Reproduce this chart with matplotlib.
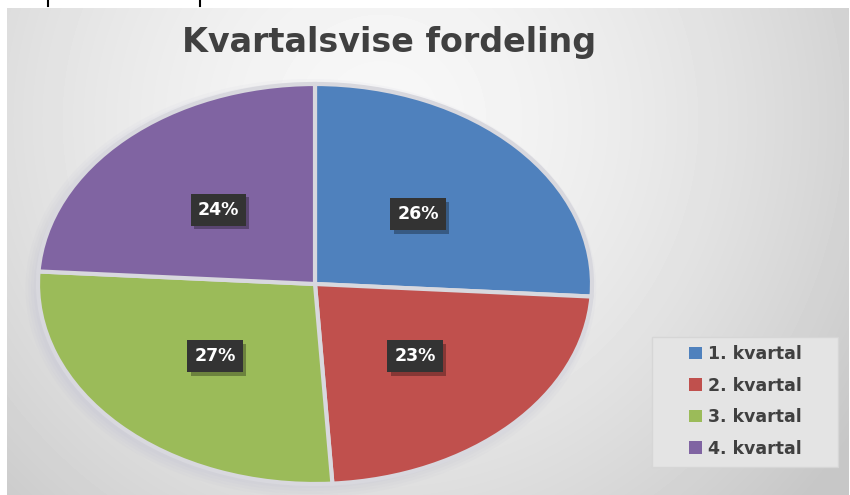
import numpy as np
import matplotlib.pyplot as plt
import matplotlib.patheffects as pe
from matplotlib.patches import Patch, Ellipse, Rectangle
from matplotlib.lines import Line2D

plt.rcParams['font.family'] = ['DejaVu Sans']

# Data
kvartaler = ["1. kvartal", "2. kvartal", "3. kvartal", "4. kvartal"]
andeler = [26, 23, 27, 24]
farger = ["#4f81bd", "#c0504d", "#9bbb59", "#8064a2"]
tittel = "Kvartalsvise fordeling"

W, H = 850, 495
fig = plt.figure(figsize=(W / 100, H / 100), dpi=100)
fig.patch.set_facecolor("white")


def box(x0, y0, x1, y1):
    # piksler (y nedover) -> figurbrøk
    return [x0 / W, 1 - y1 / H, (x1 - x0) / W, (y1 - y0) / H]


# Bakgrunn med radial gradient
bg = fig.add_axes(box(7, 8, 849, 495))
yy, xx = np.mgrid[8:495, 7:849]
d = np.hypot(xx - 380, yy - 120) / 528
g = np.clip(0.97 - 0.17 * d ** 1.6, 0.78, 1)
bg.imshow(g, cmap="gray", vmin=0, vmax=1, aspect="auto", interpolation="bilinear")
bg.axis("off")

# små streker øverst (fra skjermbildet)
for xp in (48, 200):
    fig.add_artist(Line2D([xp / W, xp / W], [1, 1 - 6 / H], color="black", lw=1.5,
                          transform=fig.transFigure))

# Kakediagram (strukket til ellipse)
ax = fig.add_axes(box(38, 84, 592, 484))
for k in range(4):
    sh = Ellipse((-0.015, -0.02), 2 + 0.02 * k, 2 + 0.03 * k, fc="#a8a8c8", ec="none",
                 alpha=0.05, clip_on=False, zorder=0)
    ax.add_patch(sh)

wedges, _, pct = ax.pie(andeler, colors=farger, startangle=90, counterclock=False,
                        autopct="%1.0f%%", pctdistance=0.51,
                        wedgeprops=dict(edgecolor="#d8d8de", linewidth=3))
for w in wedges:
    w.set_clip_on(False)
ax.set_aspect("auto")
ax.set_xlim(-1, 1)
ax.set_ylim(-1, 1)
ax.axis("off")

for t in pct:
    t.set(color="white", fontsize=12.5, fontweight="bold", zorder=4)
    t.set_bbox(dict(boxstyle="square,pad=0.4", fc="#333333", ec="none"))
    t.get_bbox_patch().set_path_effects(
        [pe.SimplePatchShadow(offset=(2.5, -2.5), shadow_rgbFace="black", alpha=0.3),
         pe.Normal()])

# Tittel
fig.text(389 / W, 1 - 52 / H, tittel, ha="center", va="baseline", fontsize=24,
         fontweight="bold", color="#404040")

# Forklaring
fig.add_artist(Rectangle((652 / W, 1 - 467 / H), 186 / W, 130 / H, fc="#e4e4e4",
                         ec="#d6d6d6", lw=1, transform=fig.transFigure))
handles = [Patch(fc=c, ec="none") for c in farger]
leg = fig.legend(handles, kvartaler, loc="upper left", bbox_to_anchor=(689 / W, 1 - 345 / H),
                 frameon=False, prop=dict(weight="bold", size=12.5), labelcolor="#404040",
                 handlelength=0.75, handleheight=0.75, handletextpad=0.35,
                 labelspacing=0.78, borderpad=0, borderaxespad=0)

fig.savefig("out.png", dpi=100)
